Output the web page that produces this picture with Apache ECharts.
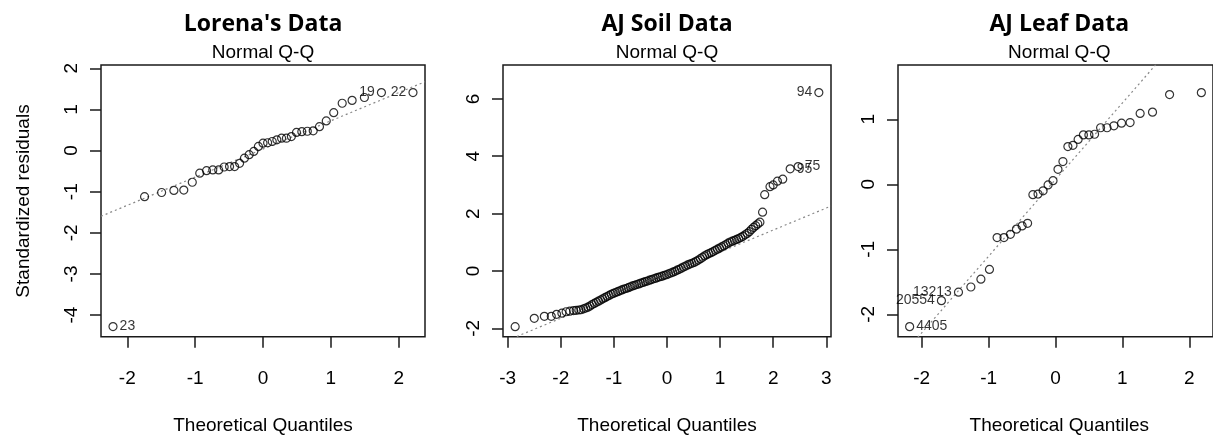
<!DOCTYPE html>
<html><head><meta charset="utf-8">
<script src="https://cdn.jsdelivr.net/npm/echarts@6/dist/echarts.min.js"></script>
<style>html,body{margin:0;padding:0;background:#fff}#c{width:1213px;height:436px}</style>
</head><body><div id="c"></div><script>
// ---- Data ----
const panelTitles = ["Lorena's Data", "AJ Soil Data", "AJ Leaf Data"];
const panelSubtitle = "Normal Q-Q";
const xAxisTitle = "Theoretical Quantiles";
const yAxisTitle = "Standardized residuals";

// Lorena's data (n = 37)
const lorenaX = [-2.21,-1.745,-1.494,-1.313,-1.167,-1.042,-0.932,-0.832,-0.740,-0.653,-0.572,-0.493,-0.418,-0.345,-0.274,-0.204,-0.136,-0.068,0,0.068,0.136,0.204,0.274,0.345,0.418,0.493,0.572,0.653,0.740,0.832,0.932,1.042,1.167,1.313,1.494,1.745,2.21];
const lorenaY = [-4.28,-1.12,-1.02,-0.97,-0.96,-0.77,-0.55,-0.49,-0.47,-0.47,-0.40,-0.39,-0.39,-0.31,-0.185,-0.10,-0.02,0.10,0.18,0.19,0.22,0.26,0.30,0.30,0.34,0.44,0.46,0.47,0.48,0.58,0.72,0.92,1.15,1.22,1.29,1.41,1.41];
const lorenaLabelIdx = [0, 35, 36];
const lorenaLabelTxt = ['23', '19', '22'];
const lorenaLabelPos = ['right', 'left', 'left'];

// AJ Soil data
const soilX = [-2.86,-2.50,-2.31,-2.18,-2.08,-1.98,-1.90,-1.83,-1.76,-1.71,-1.66,-1.62,-1.57,-1.53,-1.49,-1.45,-1.41,-1.37,-1.33,-1.29,-1.25,-1.21,-1.17,-1.13,-1.09,-1.05,-1.01,-0.97,-0.93,-0.89,-0.85,-0.81,-0.77,-0.73,-0.69,-0.65,-0.61,-0.57,-0.53,-0.49,-0.45,-0.41,-0.37,-0.33,-0.29,-0.25,-0.21,-0.17,-0.13,-0.09,-0.05,-0.01,0.03,0.07,0.11,0.15,0.19,0.23,0.27,0.31,0.35,0.39,0.43,0.47,0.51,0.55,0.59,0.63,0.67,0.71,0.75,0.79,0.83,0.87,0.91,0.95,0.99,1.03,1.07,1.11,1.15,1.19,1.23,1.27,1.31,1.35,1.39,1.43,1.47,1.51,1.55,1.59,1.63,1.67,1.71,1.75,1.80,1.84,1.94,2.00,2.08,2.18,2.32,2.47,2.86];
const soilY = [-1.94,-1.65,-1.58,-1.58,-1.51,-1.47,-1.42,-1.40,-1.38,-1.37,-1.36,-1.35,-1.32,-1.29,-1.26,-1.22,-1.17,-1.13,-1.09,-1.05,-1.01,-0.97,-0.93,-0.89,-0.85,-0.81,-0.78,-0.75,-0.72,-0.69,-0.66,-0.63,-0.61,-0.58,-0.55,-0.52,-0.50,-0.47,-0.45,-0.42,-0.40,-0.37,-0.35,-0.32,-0.30,-0.27,-0.25,-0.22,-0.20,-0.18,-0.15,-0.13,-0.10,-0.07,-0.04,-0.01,0.03,0.06,0.10,0.14,0.17,0.21,0.24,0.27,0.30,0.34,0.38,0.43,0.48,0.53,0.57,0.61,0.64,0.68,0.72,0.76,0.80,0.84,0.88,0.92,0.97,1.01,1.04,1.07,1.10,1.13,1.17,1.21,1.26,1.31,1.37,1.45,1.52,1.58,1.64,1.70,2.05,2.66,2.94,3.00,3.13,3.20,3.56,3.64,6.22];
const soilLabelIdx = [102, 103, 104];
const soilLabelTxt = ['95', '75', '94'];
const soilLabelPos = ['right', 'right', 'left'];

// AJ Leaf data (n = 34)
const leafX = [-2.18,-1.705,-1.45,-1.265,-1.115,-0.987,-0.873,-0.770,-0.674,-0.584,-0.499,-0.417,-0.338,-0.261,-0.185,-0.111,-0.037,0.037,0.111,0.185,0.261,0.338,0.417,0.499,0.584,0.674,0.770,0.873,0.987,1.115,1.265,1.45,1.705,2.18];
const leafY = [-2.19,-1.79,-1.66,-1.58,-1.46,-1.31,-0.82,-0.82,-0.77,-0.69,-0.64,-0.60,-0.16,-0.15,-0.10,-0.01,0.055,0.23,0.35,0.58,0.60,0.69,0.76,0.76,0.77,0.87,0.87,0.90,0.94,0.95,1.09,1.11,1.38,1.41];
const leafLabelIdx = [0, 1, 2];
const leafLabelTxt = ['4405', '20554', '13213'];
const leafLabelPos = ['right', 'left', 'left'];

// reference (qqline) intercepts / slopes
const refIntercepts = [0.038, -0.11, 0.072];
const refSlopes = [0.685, 0.768, 1.179];

// axis limits and ticks
const xMins = [-2.387, -3.089, -2.354];
const xMaxs = [2.387, 3.089, 2.354];
const yMins = [-4.525, -2.29, -2.345];
const yMaxs = [2.08, 7.18, 1.835];
const xTicks = [[-2,-1,0,1,2], [-3,-2,-1,0,1,2,3], [-2,-1,0,1,2]];
const yTicks = [[-4,-3,-2,-1,0,1,2], [-2,0,2,4,6], [-2,-1,0,1]];

// ---- Layout ----
const grids = [
  {left: 101, top: 65, width: 324, height: 271.7},
  {left: 503, top: 65, width: 328, height: 271.7},
  {left: 898, top: 65, width: 322.6, height: 271.7}
];
const FONT = 'Liberation Sans, Arial, sans-serif';
const INK = '#1a1a1a';

const xs = [lorenaX, soilX, leafX];
const ys = [lorenaY, soilY, leafY];
const lblIdx = [lorenaLabelIdx, soilLabelIdx, leafLabelIdx];
const lblTxt = [lorenaLabelTxt, soilLabelTxt, leafLabelTxt];
const lblPos = [lorenaLabelPos, soilLabelPos, leafLabelPos];

const option = {
  animation: false,
  backgroundColor: '#fff',
  grid: grids.map(g => Object.assign({show: true, borderColor: INK, borderWidth: 1.5, backgroundColor: 'transparent', containLabel: false}, g)),
  xAxis: grids.map((g, k) => ({
    type: 'value', gridIndex: k, min: xMins[k], max: xMaxs[k], position: 'bottom',
    axisLine: {show: false, onZero: false},
    splitLine: {show: false},
    axisTick: {show: true, inside: false, length: 11, lineStyle: {color: INK, width: 1.5}, customValues: xTicks[k]},
    axisLabel: {show: true, margin: 33, fontFamily: FONT, fontSize: 19, color: '#000', customValues: xTicks[k], formatter: v => String(v)}
  })),
  yAxis: grids.map((g, k) => ({
    type: 'value', gridIndex: k, min: yMins[k], max: yMaxs[k], position: 'left',
    axisLine: {show: false, onZero: false},
    splitLine: {show: false},
    axisTick: {show: true, inside: false, length: 11, lineStyle: {color: INK, width: 1.5}, customValues: yTicks[k]},
    axisLabel: {show: true, rotate: 90, margin: 20, fontFamily: FONT, fontSize: 19, color: '#000', customValues: yTicks[k], formatter: v => String(v)}
  })),
  series: [],
  graphic: []
};

for (let k = 0; k < 3; k++) {
  option.series.push({
    type: 'line', xAxisIndex: k, yAxisIndex: k, symbol: 'none', clip: true, silent: true,
    lineStyle: {color: '#888', width: 1.2, type: [2, 3]},
    data: [[xMins[k], refIntercepts[k] + refSlopes[k] * xMins[k]], [xMaxs[k], refIntercepts[k] + refSlopes[k] * xMaxs[k]]],
    z: 1
  });
  const data = xs[k].map((x, i) => {
    const item = {value: [x, ys[k][i]]};
    const j = lblIdx[k].indexOf(i);
    if (j >= 0) {
      item.label = {show: true, formatter: lblTxt[k][j], position: lblPos[k][j], distance: 2,
        fontFamily: FONT, fontSize: 14, color: '#000'};
    }
    return item;
  });
  option.series.push({
    type: 'scatter', xAxisIndex: k, yAxisIndex: k, symbol: 'circle', symbolSize: 8, clip: false, silent: true,
    itemStyle: {color: 'rgba(0,0,0,0)', borderColor: '#000', borderWidth: 1.2},
    data: data, z: 2
  });
  const cx = grids[k].left + grids[k].width / 2;
  option.graphic.push({type: 'text', x: cx, y: 24, style: {text: panelTitles[k], font: 'bold 23px "Open Sans", sans-serif', fill: '#000', textAlign: 'center', textVerticalAlign: 'middle'}});
  option.graphic.push({type: 'text', x: cx, y: 53, style: {text: panelSubtitle, font: '19px ' + FONT, fill: '#000', textAlign: 'center', textVerticalAlign: 'middle'}});
  option.graphic.push({type: 'text', x: cx, y: 426, style: {text: xAxisTitle, font: '19px ' + FONT, fill: '#000', textAlign: 'center', textVerticalAlign: 'middle'}});
}
option.graphic.push({type: 'text', x: 24, y: 201, rotation: Math.PI / 2, style: {text: yAxisTitle, font: '19px ' + FONT, fill: '#000', textAlign: 'center', textVerticalAlign: 'middle'}});

const chart = echarts.init(document.getElementById('c'), null, {renderer: 'canvas'});
chart.setOption(option);
</script></body></html>
